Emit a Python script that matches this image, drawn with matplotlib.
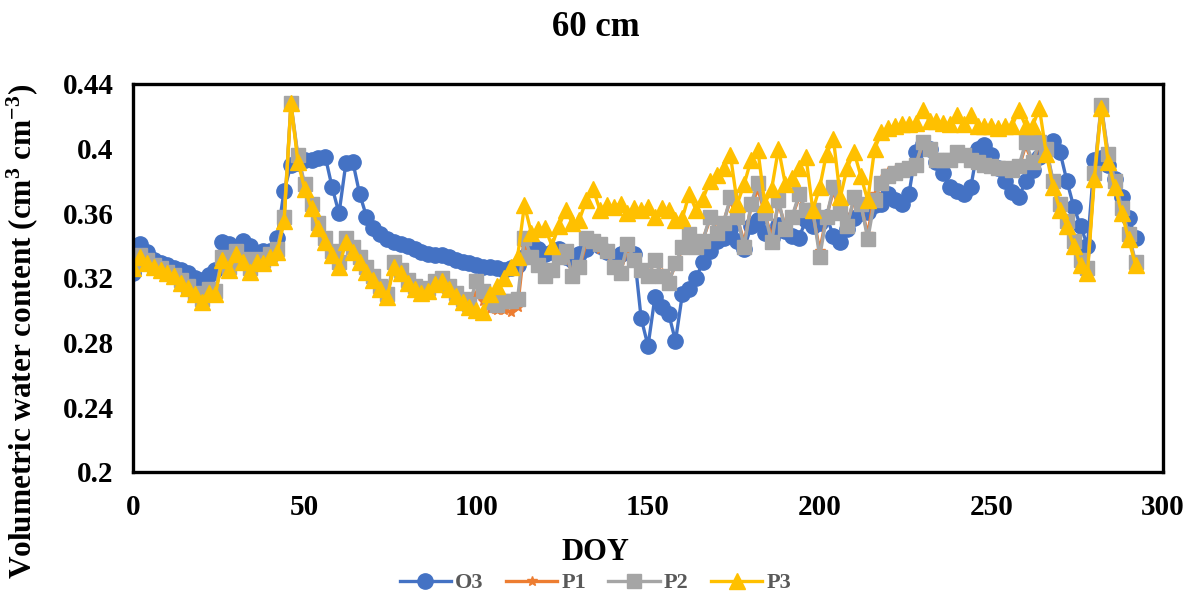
import matplotlib
matplotlib.use("Agg")
import matplotlib.pyplot as plt

# Day of year (sampled every second day)
doy = list(range(0, 293, 2))

o3 = [0.323, 0.341, 0.336, 0.331, 0.329, 0.328, 0.326, 0.325, 0.323, 0.320,
      0.319, 0.322, 0.325, 0.342, 0.341, 0.338, 0.343, 0.340, 0.335, 0.337,
      0.337, 0.345, 0.374, 0.390, 0.391, 0.393, 0.393, 0.394, 0.395, 0.376,
      0.360, 0.391, 0.392, 0.372, 0.358, 0.351, 0.347, 0.344, 0.342, 0.341,
      0.340, 0.338, 0.336, 0.335, 0.334, 0.334, 0.333, 0.331, 0.330, 0.329,
      0.328, 0.327, 0.327, 0.326, 0.325, 0.326, 0.328, 0.333, 0.341, 0.338,
      0.335, 0.336, 0.338, 0.333, 0.331, 0.335, 0.338, 0.342, 0.340, 0.336,
      0.333, 0.335, 0.338, 0.335, 0.295, 0.278, 0.308, 0.302, 0.298, 0.281,
      0.310, 0.313, 0.320, 0.330, 0.337, 0.343, 0.345, 0.350, 0.343, 0.338,
      0.352, 0.356, 0.348, 0.345, 0.353, 0.349, 0.346, 0.345, 0.356, 0.352,
      0.354, 0.358, 0.346, 0.342, 0.350, 0.357, 0.360, 0.361, 0.365, 0.366,
      0.372, 0.368, 0.366, 0.372, 0.398, 0.403, 0.400, 0.392, 0.385, 0.376,
      0.374, 0.372, 0.376, 0.400, 0.402, 0.396, 0.388, 0.380, 0.373, 0.370,
      0.380, 0.387, 0.395, 0.402, 0.405, 0.398, 0.380, 0.364, 0.352, 0.340,
      0.393, 0.394, 0.390, 0.381, 0.370, 0.357, 0.345]

p1 = [0.327, 0.333, 0.330, 0.327, 0.325, 0.323, 0.321, 0.318, 0.314, 0.310,
      0.306, 0.312, 0.311, 0.332, 0.326, 0.336, 0.331, 0.325, 0.331, 0.330,
      0.334, 0.337, 0.357, 0.427, 0.395, 0.377, 0.365, 0.353, 0.344, 0.336,
      0.329, 0.344, 0.338, 0.332, 0.326, 0.320, 0.314, 0.309, 0.329, 0.324,
      0.318, 0.314, 0.312, 0.313, 0.317, 0.319, 0.314, 0.310, 0.306, 0.303,
      0.310, 0.306, 0.301, 0.300, 0.300, 0.299, 0.302, 0.340, 0.331, 0.326,
      0.322, 0.325, 0.331, 0.335, 0.322, 0.326, 0.342, 0.341, 0.338, 0.335,
      0.327, 0.324, 0.338, 0.330, 0.325, 0.322, 0.330, 0.323, 0.318, 0.328,
      0.338, 0.346, 0.340, 0.344, 0.356, 0.350, 0.355, 0.368, 0.357, 0.342,
      0.364, 0.375, 0.360, 0.345, 0.366, 0.352, 0.358, 0.370, 0.362, 0.360,
      0.337, 0.358, 0.374, 0.360, 0.354, 0.368, 0.365, 0.347, 0.372, 0.381,
      0.386, 0.387, 0.388, 0.389, 0.390, 0.403, 0.399, 0.393, 0.392, 0.392,
      0.397, 0.395, 0.392, 0.391, 0.389, 0.388, 0.387, 0.387, 0.386, 0.388,
      0.402, 0.391, 0.403, 0.399, 0.379, 0.365, 0.354, 0.342, 0.330, 0.325,
      0.384, 0.426, 0.396, 0.379, 0.362, 0.346, 0.329]

p2 = [0.328, 0.334, 0.331, 0.328, 0.326, 0.324, 0.322, 0.319, 0.315, 0.311,
      0.307, 0.313, 0.312, 0.333, 0.327, 0.337, 0.332, 0.326, 0.332, 0.331,
      0.335, 0.338, 0.358, 0.428, 0.396, 0.378, 0.366, 0.354, 0.345, 0.337,
      0.330, 0.345, 0.339, 0.333, 0.327, 0.321, 0.315, 0.310, 0.330, 0.325,
      0.319, 0.315, 0.313, 0.314, 0.318, 0.320, 0.315, 0.311, 0.307, 0.304,
      0.318, 0.312, 0.305, 0.303, 0.306, 0.306, 0.307, 0.345, 0.333, 0.328,
      0.321, 0.325, 0.333, 0.337, 0.321, 0.327, 0.345, 0.343, 0.341, 0.337,
      0.327, 0.323, 0.341, 0.331, 0.325, 0.321, 0.331, 0.321, 0.317, 0.329,
      0.339, 0.347, 0.339, 0.343, 0.358, 0.348, 0.354, 0.370, 0.358, 0.339,
      0.366, 0.379, 0.360, 0.342, 0.368, 0.350, 0.358, 0.372, 0.362, 0.362,
      0.333, 0.358, 0.376, 0.360, 0.352, 0.370, 0.366, 0.344, 0.368, 0.379,
      0.383, 0.385, 0.387, 0.388, 0.390, 0.404, 0.400, 0.393, 0.393, 0.393,
      0.398, 0.396, 0.393, 0.392, 0.390, 0.389, 0.388, 0.388, 0.387, 0.389,
      0.404, 0.392, 0.404, 0.400, 0.380, 0.366, 0.355, 0.343, 0.331, 0.326,
      0.385, 0.427, 0.397, 0.380, 0.363, 0.347, 0.330]

p3 = [0.326, 0.333, 0.329, 0.327, 0.325, 0.323, 0.321, 0.317, 0.314, 0.310,
      0.305, 0.311, 0.310, 0.331, 0.325, 0.335, 0.330, 0.324, 0.330, 0.329,
      0.333, 0.336, 0.355, 0.428, 0.392, 0.375, 0.363, 0.351, 0.342, 0.334,
      0.327, 0.342, 0.336, 0.330, 0.324, 0.319, 0.313, 0.308, 0.327, 0.323,
      0.317, 0.313, 0.311, 0.312, 0.316, 0.318, 0.313, 0.309, 0.305, 0.302,
      0.300, 0.299, 0.310, 0.315, 0.320, 0.327, 0.333, 0.365, 0.348, 0.350,
      0.351, 0.340, 0.352, 0.362, 0.354, 0.356, 0.368, 0.375, 0.362, 0.365,
      0.364, 0.366, 0.360, 0.363, 0.362, 0.364, 0.358, 0.363, 0.362, 0.356,
      0.357, 0.372, 0.362, 0.369, 0.380, 0.384, 0.388, 0.396, 0.366, 0.378,
      0.393, 0.399, 0.366, 0.375, 0.400, 0.378, 0.382, 0.388, 0.395, 0.362,
      0.376, 0.397, 0.406, 0.370, 0.388, 0.398, 0.383, 0.368, 0.400, 0.410,
      0.413, 0.414, 0.415, 0.415, 0.416, 0.424, 0.417, 0.417, 0.416, 0.415,
      0.421, 0.415, 0.421, 0.414, 0.414, 0.414, 0.413, 0.414, 0.414, 0.424,
      0.414, 0.414, 0.425, 0.397, 0.376, 0.362, 0.352, 0.340, 0.328, 0.323,
      0.381, 0.425, 0.392, 0.376, 0.360, 0.344, 0.328]

series_names = ["O3", "P1", "P2", "P3"]
colors = ["#4472C4", "#ED7D31", "#A5A5A5", "#FFC000"]
markers = ["o", "*", "s", "^"]
msizes = [11, 7, 9.5, 11.5]

x_ticks = [0, 50, 100, 150, 200, 250, 300]
y_ticks = [0.2, 0.24, 0.28, 0.32, 0.36, 0.4, 0.44]
y_ticklabels = ["0.2", "0.24", "0.28", "0.32", "0.36", "0.4", "0.44"]

plt.rcParams["font.family"] = ["Liberation Serif", "DejaVu Serif"]
plt.rcParams["font.weight"] = "bold"
plt.rcParams["mathtext.fontset"] = "custom"
plt.rcParams["mathtext.rm"] = "Liberation Serif:bold"
plt.rcParams["mathtext.it"] = "Liberation Serif:bold"
plt.rcParams["mathtext.bf"] = "Liberation Serif:bold"

fig = plt.figure(figsize=(11.91, 6.03), dpi=100)
ax = fig.add_axes([0.1117, 0.2173, 0.8648, 0.6434])

handles = []
for name, vals, c, m, ms in zip(series_names, [o3, p1, p2, p3], colors, markers, msizes):
    h, = ax.plot(doy, vals, color=c, marker=m, markersize=ms, linewidth=2.4,
                 markeredgecolor=c, label=name)
    handles.append(h)

ax.set_xlim(0, 300)
ax.set_ylim(0.2, 0.44)
ax.set_xticks(x_ticks)
ax.set_yticks(y_ticks)
ax.set_yticklabels(y_ticklabels)
ax.tick_params(axis="y", length=0, labelsize=21, pad=14)
ax.tick_params(axis="x", length=0, labelsize=21, pad=16)
for lab in ax.get_xticklabels() + ax.get_yticklabels():
    lab.set_fontweight("bold")
for sp in ax.spines.values():
    sp.set_linewidth(2.4)
    sp.set_color("black")

fig.text(0.5, 0.955, "60 cm", ha="center", va="center", fontsize=25, fontweight="bold")
fig.text(0.5, 0.083, "DOY", ha="center", va="center", fontsize=22, fontweight="bold")
fig.text(0.0185, 0.451, r"Volumetric water content (cm$^{3}$ cm$^{-3}$)", rotation=90,
         ha="center", va="center", fontsize=22.5, fontweight="bold")

leg = fig.legend(handles=handles, loc="center", bbox_to_anchor=(0.5, 0.033), ncol=4,
                 frameon=False, fontsize=16, handlelength=2.3, columnspacing=1.0,
                 handletextpad=0.2, borderaxespad=0)
for t in leg.get_texts():
    t.set_color("#595959")
    t.set_fontweight("bold")

fig.savefig("out.png", dpi=100)
